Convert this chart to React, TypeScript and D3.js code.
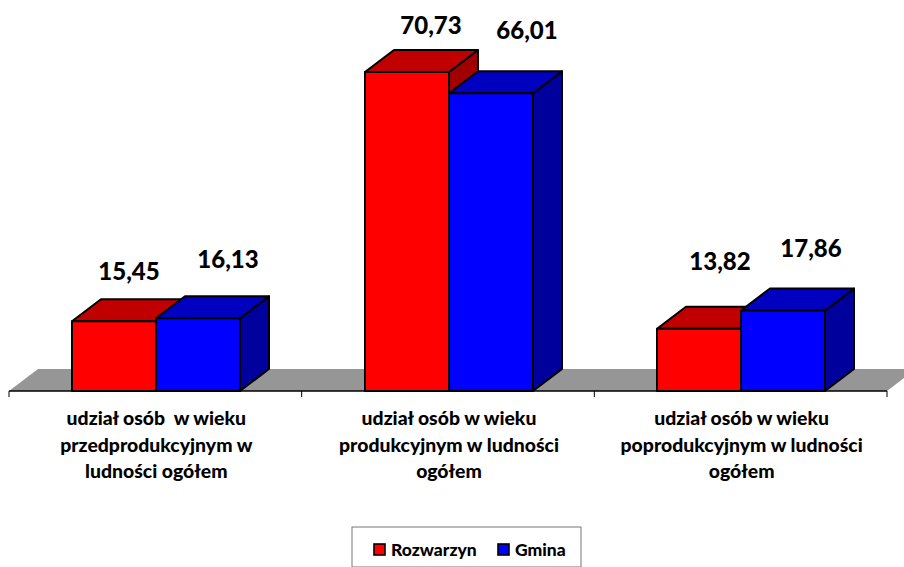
import React from "react";
import * as d3 from "d3";

const categories = [
  ["udział osób  w wieku", "przedprodukcyjnym w", "ludności ogółem"],
  ["udział osób w wieku", "produkcyjnym w ludności", "ogółem"],
  ["udział osób w wieku", "poprodukcyjnym w ludności", "ogółem"],
];
const seriesNames = ["Rozwarzyn", "Gmina"];
const rozwarzyn = [15.45, 70.73, 13.82];
const gmina = [16.13, 66.01, 17.86];
const seriesValues = [rozwarzyn, gmina];
const frontColors = ["#ff0000", "#0000ff"];
const topColors = ["#c00000", "#0000c0"];
const sideColors = ["#a00000", "#00009c"];
// label placement relative to each bar's front top edge: [dx from bar centre, gap above]
const labelOffsets = [
  [[15, 41], [30, 50]],
  [[24, 38], [36, 54]],
  [[21, 59], [28, 53]],
];

const DX = 29;
const DY = -22;
const FONT = "Lato, Carlito, Calibri, sans-serif";

export default function App() {
  const x0 = d3.scaleBand<number>().domain([0, 1, 2]).range([9, 887]);
  const y = d3.scaleLinear().domain([0, 80]).range([391, 30.2]);
  const x1 = d3.scaleBand<number>().domain([0, 1]).range([-84, 84]);
  const bw = x1.bandwidth();
  const base = y(0);
  const fmt = (v: number) => v.toFixed(2).replace(".", ",");
  const poly = (p: number[][]) => p.map((q) => q.join(",")).join(" ");

  const bars = categories.flatMap((_, c) =>
    seriesValues.map((vals, s) => {
      const left = Math.round(x0(c)! + x0.bandwidth() / 2 + x1(s)! + 0.7);
      return { c, s, v: vals[c], left, right: left + bw, top: y(vals[c]) };
    })
  );

  return (
    <svg
      width={904}
      height={567}
      style={{ position: "absolute", left: 0, top: 0, background: "#fff" }}
      fontFamily={FONT}
    >
      {/* floor */}
      <polygon
        points={poly([[9, base], [9 + DX, base + DY], [887 + DX, base + DY], [887, base]])}
        fill="#969696"
      />
      {/* axis */}
      <line x1={9} x2={887} y1={base} y2={base} stroke="#000" strokeWidth={1.6} />
      {[0, 1, 2].map((i) => (
        <line key={i} x1={x0(i)!} x2={x0(i)!} y1={base} y2={base + 6} stroke="#000" strokeWidth={1} />
      ))}
      <line x1={887} x2={887} y1={base} y2={base + 6} stroke="#000" strokeWidth={1} />

      {/* bars */}
      {bars.map((b) => (
        <g key={`${b.c}-${b.s}`} stroke="#000" strokeWidth={2} strokeLinejoin="round">
          <polygon
            points={poly([[b.right, base], [b.right + DX, base + DY], [b.right + DX, b.top + DY], [b.right, b.top]])}
            fill={sideColors[b.s]}
          />
          <polygon
            points={poly([[b.left, b.top], [b.left + DX, b.top + DY], [b.right + DX, b.top + DY], [b.right, b.top]])}
            fill={topColors[b.s]}
          />
          <rect x={b.left} y={b.top} width={bw} height={base - b.top} fill={frontColors[b.s]} />
        </g>
      ))}

      {/* data labels */}
      {bars.map((b) => (
        <text
          key={`l-${b.c}-${b.s}`}
          x={(b.left + b.right) / 2 + labelOffsets[b.c][b.s][0]}
          y={b.top - labelOffsets[b.c][b.s][1]}
          textAnchor="middle"
          fontSize={24}
          fontWeight={900}
          fill="#000"
        >
          {fmt(b.v)}
        </text>
      ))}

      {/* category labels */}
      {categories.map((lines, c) =>
        lines.map((t, i) => (
          <text
            key={`${c}-${i}`}
            x={x0(c)! + x0.bandwidth() / 2 + 1}
            y={425 + i * 26.5}
            textAnchor="middle"
            fontSize={19.4}
            fontWeight={900}
            fill="#000"
            style={{ whiteSpace: "pre" }}
          >
            {t}
          </text>
        ))
      )}

      {/* legend */}
      <rect x={352} y={527} width={229} height={40} fill="#fff" stroke="#777" strokeWidth={1} />
      {seriesNames.map((n, i) => {
        const lx = [374, 498][i];
        return (
          <g key={n}>
            <rect x={lx} y={544} width={11} height={11} fill={frontColors[i]} stroke="#000" strokeWidth={1.6} />
            <text x={lx + 17} y={556} fontSize={17.5} fontWeight={900} fill="#000">
              {n}
            </text>
          </g>
        );
      })}
    </svg>
  );
}
